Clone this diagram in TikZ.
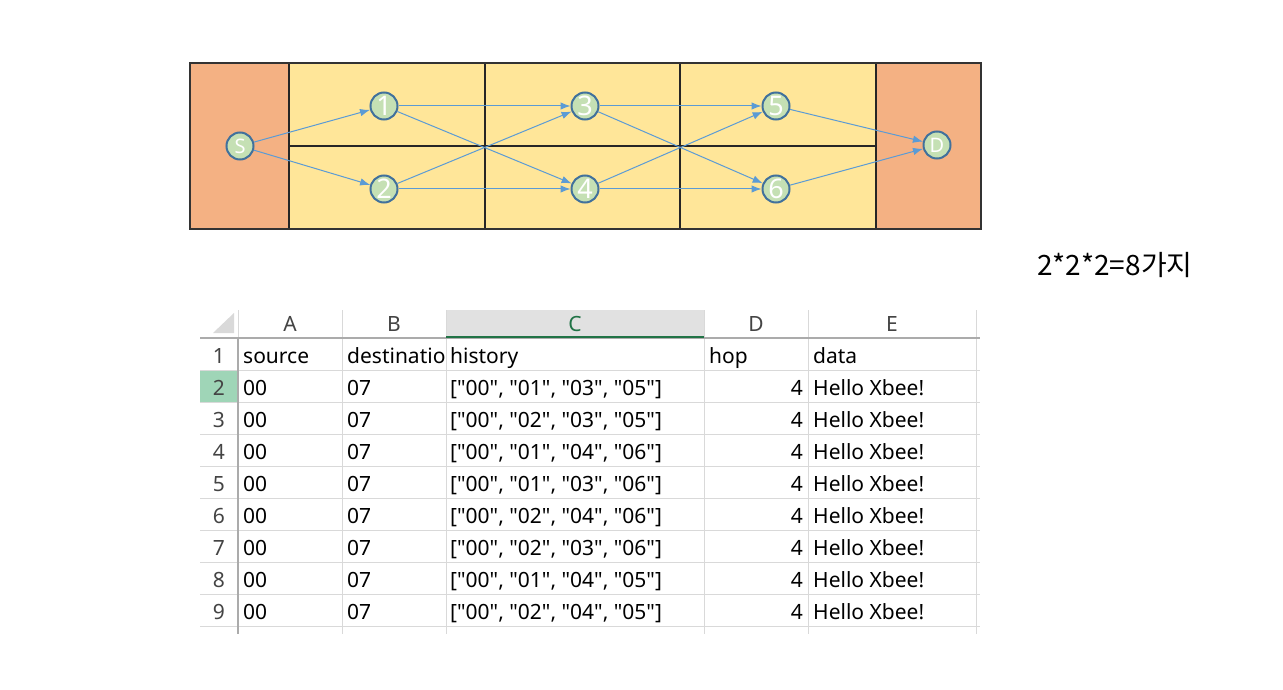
\documentclass[tikz,border=0pt]{standalone}
\usepackage{fontspec}
\setmainfont{Noto Sans}[Ligatures=TeXOff]
\newfontfamily\krfont{Noto Sans CJK KR}
\usetikzlibrary{arrows.meta}
\definecolor{blockorange}{HTML}{F4B183}
\definecolor{blockyellow}{HTML}{FFE699}
\definecolor{nodegreen}{HTML}{C5E0B4}
\definecolor{nodeedge}{HTML}{41719C}
\definecolor{linkblue}{HTML}{5B9BD5}
\definecolor{gridgray}{HTML}{D9D9D9}
\definecolor{headgray}{HTML}{ABABAB}
\definecolor{headtext}{HTML}{444444}
\definecolor{selgreen}{HTML}{9FD5B7}
\definecolor{selline}{HTML}{217346}
\definecolor{selfill}{HTML}{E1E1E1}
\begin{document}
\begin{tikzpicture}[x=1pt, y=-1pt,
    hop/.style={circle, draw=nodeedge, line width=2pt, fill=nodegreen, text=white,
      minimum size=27pt, inner sep=0pt, font=\fontsize{27}{27}\selectfont},
    endhop/.style={hop, font=\fontsize{20}{20}\selectfont},
    link/.style={draw=linkblue, line width=1pt, -{Latex[length=10pt,width=7.5pt]}},
    cell/.style={anchor=base west, inner sep=0pt, font=\fontsize{21}{24}\selectfont},
    numcell/.style={cell, anchor=base east},
    head/.style={anchor=base, inner sep=0pt, text=headtext, font=\fontsize{21}{24}\selectfont}]
    \useasboundingbox (0,0) rectangle (1283,690);
    \fill[white] (0,0) rectangle (1283,690);
    \fill[blockorange] (190,63) rectangle (289,229);
    \fill[blockorange] (876,63) rectangle (981,229);
    \fill[blockyellow] (289,63) rectangle (876,229);
    \draw[line width=1.5pt, black!85] (289,146) -- (876,146);
    \foreach \x in {289,485,680,876}
        \draw[line width=1.5pt, black!85] (\x,63) -- (\x,229);
    \draw[line width=2pt, black!80] (190,63) rectangle (981,229);
    \node[endhop] (s) at (240,146) {S};
    \node[hop] (n1) at (384,106) {1};
    \node[hop] (n2) at (384,189) {2};
    \node[hop] (n3) at (585,106) {3};
    \node[hop] (n4) at (585,189) {4};
    \node[hop] (n5) at (776,106) {5};
    \node[hop] (n6) at (776,189) {6};
    \node[endhop] (d) at (937,145) {D};
    \foreach \a/\b in {s/n1,s/n2,n1/n3,n1/n4,n2/n3,n2/n4,n3/n5,n3/n6,n4/n5,n4/n6,n5/d,n6/d}
        \draw[link] (\a) -- (\b);
    \node[anchor=base west, inner sep=0pt, font=\krfont\fontsize{28}{32}\selectfont] (count) at (1037,275) {2*2*2=8가지};
    \fill[selfill] (446,310) rectangle (704,338);
    \fill[selgreen] (200,370) rectangle (238,402);
    \fill[gridgray] (213,333) -- (234,313) -- (234,333) -- cycle;
    \foreach \x in {342,446,704,808,976}
        \draw[gridgray, line width=1pt] (\x,310) -- (\x,634);
    \draw[gridgray, line width=1pt] (238,310) -- (238,338);
    \foreach \y in {370,402,...,626}
        \draw[gridgray, line width=1pt] (200,\y) -- (980,\y);
    \draw[headgray, line width=1.2pt] (200,338) -- (980,338);
    \draw[headgray, line width=1.2pt] (238,338) -- (238,634);
    \draw[selline, line width=2pt] (446,337) -- (704,337);
    \foreach \x/\l in {290/A,394/B,756/D,892/E}
        \node[head] (col\l) at (\x,331) {\l};
    \node[head, text=selline] (colC) at (575,331) {C};
    \foreach \r in {1,...,9}
        \node[head] (row\r) at (219,{331+32*\r}) {\r};
    \node[cell] (src1) at (243,363) {source};
    \node[cell] (dst1) at (347,363) {destinatio};
    \node[cell] (hist1) at (450,363) {history};
    \node[cell] (hop1) at (709,363) {hop};
    \node[cell] (data1) at (813,363) {data};
    \foreach \r/\a/\b/\c in {2/01/03/05,3/02/03/05,4/01/04/06,5/01/03/06,6/02/04/06,7/02/03/06,8/01/04/05,9/02/04/05} {
        \node[cell] (src\r) at (243,{331+32*\r}) {00};
        \node[cell] (dst\r) at (347,{331+32*\r}) {07};
        \node[cell] (hist\r) at (450,{331+32*\r}) {["00", "\a", "\b", "\c"]};
        \node[numcell] (hop\r) at (803,{331+32*\r}) {4};
        \node[cell] (data\r) at (813,{331+32*\r}) {Hello Xbee!};
    }
\end{tikzpicture}
\end{document}
